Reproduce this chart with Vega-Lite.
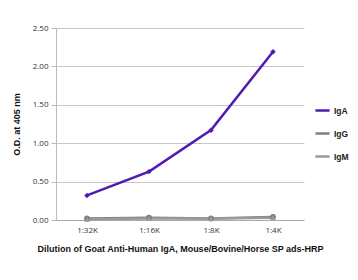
{
  "$schema": "https://vega.github.io/schema/vega-lite/v6.json",
  "width": 248,
  "height": 192,
  "autosize": {"type": "none"},
  "padding": {"left": 56, "top": 28, "right": 54, "bottom": 60},
  "background": "white",
  "data": {"values": [
    {"dilution": "1:32K", "antibody": "IgA", "od": 0.32},
    {"dilution": "1:16K", "antibody": "IgA", "od": 0.63},
    {"dilution": "1:8K", "antibody": "IgA", "od": 1.17},
    {"dilution": "1:4K", "antibody": "IgA", "od": 2.19},
    {"dilution": "1:32K", "antibody": "IgG", "od": 0.02},
    {"dilution": "1:16K", "antibody": "IgG", "od": 0.03},
    {"dilution": "1:8K", "antibody": "IgG", "od": 0.02},
    {"dilution": "1:4K", "antibody": "IgG", "od": 0.04},
    {"dilution": "1:32K", "antibody": "IgM", "od": 0.01},
    {"dilution": "1:16K", "antibody": "IgM", "od": 0.02},
    {"dilution": "1:8K", "antibody": "IgM", "od": 0.02},
    {"dilution": "1:4K", "antibody": "IgM", "od": 0.03}
  ]},
  "encoding": {
    "x": {
      "field": "dilution", "type": "ordinal", "sort": ["1:32K", "1:16K", "1:8K", "1:4K"],
      "scale": {"type": "point", "padding": 0.5},
      "title": "Dilution of Goat Anti-Human IgA, Mouse/Bovine/Horse SP ads-HRP",
      "axis": {"labelAngle": 0, "grid": false, "domainColor": "#aaa", "ticks": false, "labelPadding": 6, "titlePadding": 10}
    },
    "y": {
      "field": "od", "type": "quantitative",
      "scale": {"domain": [0, 2.5]},
      "title": "O.D. at 405 nm",
      "axis": {"values": [0, 0.5, 1, 1.5, 2, 2.5], "format": ".2f", "tickSize": 5, "tickColor": "#bbb", "domainColor": "#bbb", "gridColor": "#c8c8c8", "labelPadding": 3, "titlePadding": 11}
    },
    "color": {
      "field": "antibody", "type": "nominal",
      "scale": {"domain": ["IgA", "IgG", "IgM"], "range": ["#4f1bb0", "#7f7f7f", "#9a9a9a"]},
      "legend": {"title": null, "orient": "none", "legendX": 258, "legendY": 74, "rowPadding": 9, "symbolType": "stroke", "symbolStrokeWidth": 2.5, "symbolSize": 200, "labelFontWeight": "bold", "labelFontSize": 8.5, "labelColor": "#222", "labelFont": "Liberation Sans", "labelOffset": 3}
    }
  },
  "layer": [
    {"mark": {"type": "line", "strokeWidth": 2.5}},
    {"transform": [{"filter": "datum.antibody === 'IgA'"}], "mark": {"type": "point", "filled": true, "size": 30, "opacity": 1, "shape": "diamond"}},
    {"transform": [{"filter": "datum.antibody === 'IgG'"}], "mark": {"type": "point", "filled": true, "size": 35, "opacity": 1, "shape": "circle"}},
    {"transform": [{"filter": "datum.antibody === 'IgM'"}], "mark": {"type": "point", "filled": true, "size": 35, "opacity": 1, "shape": "triangle-up"}}
  ],
  "config": {
    "view": {"stroke": null},
    "font": "Open Sans",
    "axis": {"labelFontSize": 8, "labelColor": "#333", "titleFontSize": 9, "titleFontWeight": "bold", "titleColor": "#111", "titleFont": "Liberation Sans"}
  }
}
